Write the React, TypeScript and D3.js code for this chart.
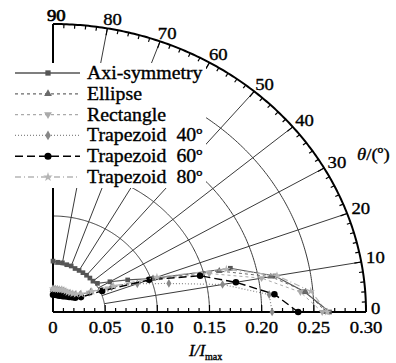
import React from 'react';
import * as d3 from 'd3';

// polar angle (deg) of each sample
const angles = [0, 5, 10, 15, 20, 25, 30, 35, 40, 45, 50, 55, 60, 65, 70, 75, 80, 85, 90];

// I/Imax
const axiSymmetry = [0.265, 0.242, 0.216, 0.176, 0.102, 0.079, 0.063, 0.052, 0.05, 0.05, 0.05, 0.05, 0.05, 0.05, 0.051, 0.051, 0.052, 0.052, 0.053];
const ellipse = [0.262, 0.243, 0.212, 0.165, 0.102, 0.062, 0.042, 0.032, 0.028, 0.026, 0.025, 0.024, 0.024, 0.024, 0.023, 0.023, 0.023, 0.023, 0.023];
const rectangle = [0.258, 0.238, 0.203, 0.155, 0.098, 0.058, 0.04, 0.031, 0.027, 0.025, 0.024, 0.024, 0.023, 0.023, 0.023, 0.023, 0.023, 0.022, 0.022];
const trapezoid40 = [0.21, 0.208, 0.165, 0.115, 0.086, 0.062, 0.042, 0.032, 0.028, 0.026, 0.025, 0.024, 0.024, 0.024, 0.024, 0.024, 0.024, 0.024, 0.024];
const trapezoid60 = [0.235, 0.213, 0.178, 0.146, 0.098, 0.052, 0.031, 0.026, 0.024, 0.022, 0.021, 0.02, 0.019, 0.019, 0.018, 0.018, 0.018, 0.018, 0.018];
const trapezoid80 = [0.263, 0.248, 0.218, 0.172, 0.106, 0.064, 0.043, 0.033, 0.029, 0.027, 0.026, 0.025, 0.025, 0.025, 0.025, 0.024, 0.024, 0.024, 0.024];

const seriesNames = ['Axi-symmetry', 'Ellipse', 'Rectangle', 'Trapezoid  40º', 'Trapezoid  60º', 'Trapezoid  80º'];

const radiusTicks = [0, 0.05, 0.1, 0.15, 0.2, 0.25, 0.3];
const radiusLabels = ['0', '0.05', '0.10', '0.15', '0.20', '0.25', '0.30'];
const angleTicks = [0, 10, 20, 30, 40, 50, 60, 70, 80, 90];

const W = 396, H = 363;
const cx = 53, cy = 312;
const FONT = 'Liberation Serif, Times New Roman, DejaVu Serif, serif';

// the plot is slightly squashed vertically, so two radius scales
const rx = d3.scaleLinear().domain([0, 0.3]).range([0, 313]);
const ry = d3.scaleLinear().domain([0, 0.3]).range([0, 288]);
const rad = (d: number) => (d * Math.PI) / 180;
const px = (r: number, a: number) => cx + rx(r) * Math.cos(rad(a));
const py = (r: number, a: number) => cy - ry(r) * Math.sin(rad(a));

const arcPath = (r: number) =>
  d3.line<number>().x(a => px(r, a)).y(a => py(r, a))(d3.range(0, 90.5, 0.5)) || '';

const styles = [
  { values: axiSymmetry, color: '#555', dash: null, width: 1.2, symbol: d3.symbolSquare, size: 22, rot: 0 },
  { values: ellipse, color: '#6a6a6a', dash: '3,3', width: 1, symbol: d3.symbolTriangle, size: 20, rot: 0 },
  { values: rectangle, color: '#aaa', dash: '3,3', width: 1, symbol: d3.symbolTriangle, size: 20, rot: 180 },
  { values: trapezoid40, color: '#888', dash: '1,2', width: 1.2, symbol: d3.symbolDiamond, size: 22, rot: 0 },
  { values: trapezoid60, color: '#000', dash: '8,4', width: 1.4, symbol: d3.symbolCircle, size: 34, rot: 0 },
  { values: trapezoid80, color: '#b5b5b5', dash: '6,3,1,3', width: 1.2, symbol: d3.symbolStar, size: 22, rot: 0 },
];

// scanned text is heavy: thin stroke on top of the fill
const ink = { fill: '#000', stroke: '#000', strokeWidth: 0.35 };

const App = () => {
  const line = d3.line<[number, number]>()
    .x(d => px(d[1], d[0]))
    .y(d => py(d[1], d[0]));

  const minorR = d3.range(0, 0.3001, 0.01);
  const arcTicks = d3.range(0, 90.01, 2);

  return (
    <svg width={W} height={H} fontFamily={FONT}
      style={{ position: 'absolute', left: 0, top: 0, background: '#fff', fontFamily: FONT }}>
      {/* grid arcs */}
      {radiusTicks.slice(1, -1).map(r => (
        <path key={'a' + r} d={arcPath(r)} fill="none" stroke="#3a3a3a" strokeWidth={1} />
      ))}
      {/* radial lines */}
      {angleTicks.slice(1, -1).map(a => (
        <line key={'r' + a} x1={px(0.05, a)} y1={py(0.05, a)} x2={px(0.3, a)} y2={py(0.3, a)}
          stroke="#3a3a3a" strokeWidth={1} />
      ))}
      {/* outer arc and axes */}
      <path d={arcPath(0.3)} fill="none" stroke="#000" strokeWidth={2} />
      <line x1={cx} y1={cy} x2={px(0.3, 0)} y2={cy} stroke="#000" strokeWidth={2} />
      <line x1={cx} y1={cy} x2={cx} y2={py(0.3, 90)} stroke="#000" strokeWidth={2} />
      {minorR.map((r, i) => (
        <line key={'xt' + i} x1={px(r, 0)} x2={px(r, 0)} y1={cy} y2={cy - (i % 5 === 0 ? 7 : 4)}
          stroke="#000" strokeWidth={1.2} />
      ))}
      {arcTicks.map(a => {
        const len = a % 10 === 0 ? 7 : 4;
        return (
          <line key={'at' + a} x1={px(0.3, a)} y1={py(0.3, a)}
            x2={px(0.3, a) - len * Math.cos(rad(a))} y2={py(0.3, a) + len * Math.sin(rad(a))}
            stroke="#000" strokeWidth={1.2} />
        );
      })}

      {/* series */}
      {styles.map((s, i) => {
        const pts = angles.map((a, j) => [a, s.values[j]] as [number, number]);
        const sym = d3.symbol().type(s.symbol).size(s.size)() || '';
        return (
          <g key={'s' + i}>
            <path d={line(pts) || ''} fill="none" stroke={s.color} strokeWidth={s.width}
              strokeDasharray={s.dash || undefined} />
            {pts.map((p, j) => (
              <path key={j} d={sym} fill={s.color}
                transform={`translate(${px(p[1], p[0])},${py(p[1], p[0])}) rotate(${s.rot})`} />
            ))}
          </g>
        );
      })}

      {/* legend */}
      <rect x={10} y={63} width={196} height={125} fill="#fff" />
      {styles.map((s, i) => {
        const y = 73 + i * 20.8;
        const sym = d3.symbol().type(s.symbol).size(s.size + 6)() || '';
        return (
          <g key={'l' + i}>
            <line x1={15} x2={80} y1={y} y2={y} stroke={s.color} strokeWidth={s.width + 0.2}
              strokeDasharray={s.dash || undefined} />
            <path d={sym} fill={s.color} transform={`translate(48,${y}) rotate(${s.rot})`} />
            <text transform={`translate(87,${y + 6}) scale(1.1,1)`} fontSize={18} {...ink}
              style={{ whiteSpace: 'pre' }}>{seriesNames[i]}</text>
          </g>
        );
      })}

      {/* radius labels */}
      {radiusTicks.map((r, i) => (
        <text key={'rl' + i} transform={`translate(${px(r, 0)},${cy + 21}) scale(1.1,1)`}
          textAnchor="middle" fontSize={17} {...ink}>{radiusLabels[i]}</text>
      ))}
      {/* angle labels */}
      {angleTicks.map(a => {
        const x = px(0.3, a) - 6 + 11 * Math.cos(rad(a));
        const y = py(0.3, a) - 4 - 5 * Math.sin(rad(a)) + 6;
        return (
          <text key={'al' + a} transform={`translate(${x},${y}) scale(1.1,1)`}
            fontSize={17} {...ink} strokeWidth={a === 90 ? 0.7 : 0.35}>{a}</text>
        );
      })}
      <text transform="translate(357,160) scale(1.1,1)" fontSize={17} {...ink}>
        <tspan fontStyle="italic">θ</tspan>/(º)
      </text>
      <text x={189} y={356} fontSize={17} fontStyle="italic" {...ink}>
        I/I<tspan fontSize={10} fontStyle="normal" dy={4}>max</tspan>
      </text>
    </svg>
  );
};

export default App;
